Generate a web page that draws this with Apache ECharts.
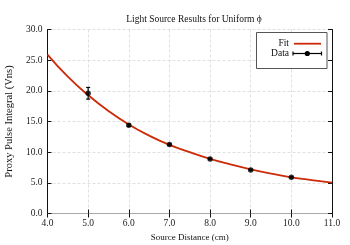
<!DOCTYPE html>
<html><head><meta charset="utf-8">
<script src="https://cdn.jsdelivr.net/npm/echarts@6/dist/echarts.min.js"></script>
<style>html,body{margin:0;padding:0;background:#fff}#c{width:350px;height:245px}</style>
</head><body><div id="c"></div>
<script>
var dataX = [5, 6, 7, 8, 9, 10];
var dataY = [19.6, 14.4, 11.25, 8.9, 7.1, 5.9];
var dataErr = [0.95, 0.2, 0.15, 0.12, 0.1, 0.1];
var fitX = [4.0, 4.5, 5.0, 5.5, 6.0, 6.5, 7.0, 7.5, 8.0, 8.5, 9.0, 9.5, 10.0, 10.5, 11.0];
var fitY = [25.9, 22.3, 19.3, 16.7, 14.5, 12.7, 11.2, 10.0, 8.9, 8.0, 7.2, 6.5, 5.9, 5.45, 5.05];
var xTicks = [4, 5, 6, 7, 8, 9, 10, 11];
var yTicks = [0, 5, 10, 15, 20, 25, 30];

var FONT = '"Liberation Serif", "DejaVu Serif", serif';
var chart = echarts.init(document.getElementById('c'), null, {renderer: 'canvas'});
var fitData = fitX.map(function (x, i) { return [x, fitY[i]]; });
var pts = dataX.map(function (x, i) { return [x, dataY[i]]; });
var errData = dataX.map(function (x, i) { return [x, dataY[i] - dataErr[i], dataY[i] + dataErr[i]]; });
var gridLine = {show: true, lineStyle: {color: '#d8d8d8', type: [3, 2], width: 0.8}};
var axisTxt = {color: '#222', fontFamily: FONT, fontSize: 9.5};
var tick = {show: true, inside: true, length: 4, lineStyle: {color: '#111'}};

chart.setOption({
  animation: false,
  title: {text: 'Light Source Results for Uniform \u03D5', left: 189, top: 9, textAlign: 'center',
    textStyle: {fontFamily: FONT, fontSize: 9.5, fontWeight: 'normal', color: '#111'}},
  grid: {left: 47.5, right: 18, top: 29.5, bottom: 31.5, containLabel: false, outerBoundsMode: 'none'},
  xAxis: [{
    type: 'value', min: xTicks[0], max: xTicks[xTicks.length - 1], interval: 1,
    name: 'Source Distance (cm)', nameLocation: 'middle', nameGap: 19,
    nameTextStyle: {fontFamily: FONT, fontSize: 9, color: '#111'},
    axisLine: {show: true, lineStyle: {color: '#111'}},
    axisTick: tick,
    axisLabel: Object.assign({formatter: function (v) { return v.toFixed(1); }, margin: 5}, axisTxt),
    splitLine: gridLine
  }, {
    type: 'value', position: 'top', min: xTicks[0], max: xTicks[xTicks.length - 1], interval: 1,
    axisLine: {show: true, lineStyle: {color: '#aaa'}}, axisLabel: {show: false}, splitLine: {show: false},
    axisTick: tick
  }],
  yAxis: [{
    type: 'value', min: yTicks[0], max: yTicks[yTicks.length - 1], interval: 5,
    name: 'Proxy Pulse Integral (Vns)', nameLocation: 'middle', nameGap: 30,
    nameTextStyle: {fontFamily: FONT, fontSize: 10.5, color: '#111'},
    axisLine: {show: true, lineStyle: {color: '#111'}},
    axisTick: tick,
    axisLabel: Object.assign({formatter: function (v) { return v.toFixed(1); }, margin: 5}, axisTxt),
    splitLine: gridLine
  }, {
    type: 'value', position: 'right', min: yTicks[0], max: yTicks[yTicks.length - 1], interval: 5,
    axisLine: {show: true, lineStyle: {color: '#111'}}, axisLabel: {show: false}, splitLine: {show: false},
    axisTick: tick
  }],
  series: [{
    name: 'Fit', type: 'line', data: fitData, smooth: true, showSymbol: false, symbol: 'none',
    lineStyle: {color: '#cc2a08', width: 1.8}, z: 2
  }, {
    name: 'Err', type: 'custom', data: errData, z: 3,
    renderItem: function (params, api) {
      var x = api.value(0);
      var lo = api.coord([x, api.value(1)]);
      var hi = api.coord([x, api.value(2)]);
      var cw = 2;
      var st = {stroke: '#000', lineWidth: 1.2};
      return {type: 'group', children: [
        {type: 'line', shape: {x1: lo[0], y1: lo[1], x2: hi[0], y2: hi[1]}, style: st},
        {type: 'line', shape: {x1: lo[0] - cw, y1: lo[1], x2: lo[0] + cw, y2: lo[1]}, style: st},
        {type: 'line', shape: {x1: hi[0] - cw, y1: hi[1], x2: hi[0] + cw, y2: hi[1]}, style: st}
      ]};
    }
  }, {
    name: 'Data', type: 'scatter', data: pts, symbol: 'circle', symbolSize: 5.5,
    itemStyle: {color: '#000'}, z: 4
  }],
  graphic: [
    {type: 'rect', shape: {x: 256.5, y: 32.5, width: 70.5, height: 36}, style: {fill: '#fff', stroke: '#555', lineWidth: 1}, z: 10},
    {type: 'text', x: 289, y: 43.7, style: {text: 'Fit', font: '9.5px ' + FONT, fill: '#111', align: 'right', verticalAlign: 'middle'}, z: 11},
    {type: 'line', shape: {x1: 294, y1: 43.7, x2: 321, y2: 43.7}, style: {stroke: '#cc2a08', lineWidth: 1.8}, z: 11},
    {type: 'text', x: 289, y: 53.5, style: {text: 'Data', font: '9.5px ' + FONT, fill: '#111', align: 'right', verticalAlign: 'middle'}, z: 11},
    {type: 'line', shape: {x1: 293, y1: 53.5, x2: 321.5, y2: 53.5}, style: {stroke: '#000', lineWidth: 1.2}, z: 11},
    {type: 'line', shape: {x1: 293, y1: 51.5, x2: 293, y2: 55.5}, style: {stroke: '#000', lineWidth: 1.2}, z: 11},
    {type: 'line', shape: {x1: 321.5, y1: 51.5, x2: 321.5, y2: 55.5}, style: {stroke: '#000', lineWidth: 1.2}, z: 11},
    {type: 'circle', shape: {cx: 307.3, cy: 53.5, r: 2.6}, style: {fill: '#000'}, z: 11}
  ]
});
</script></body></html>
